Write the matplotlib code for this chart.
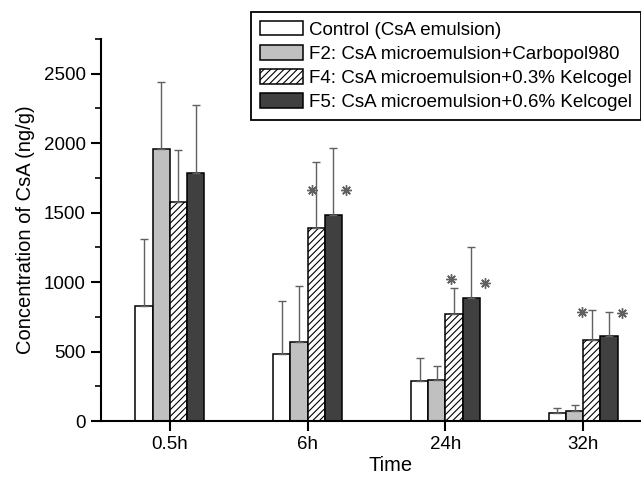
import numpy as np
import matplotlib
matplotlib.use("Agg")
import matplotlib.pyplot as plt
from matplotlib.ticker import MultipleLocator

# values (ng/g)
times = ["0.5h", "6h", "24h", "32h"]
labels = [
    "Control (CsA emulsion)",
    "F2: CsA microemulsion+Carbopol980",
    "F4: CsA microemulsion+0.3% Kelcogel",
    "F5: CsA microemulsion+0.6% Kelcogel",
]
control = [831, 485, 288, 58]
f2 = [1955, 567, 295, 74]
f4 = [1580, 1388, 771, 584]
f5 = [1785, 1484, 886, 615]
control_err = [480, 380, 166, 33]
f2_err = [482, 408, 101, 41]
f4_err = [373, 476, 185, 213]
f5_err = [490, 481, 370, 170]

# significance stars (time index, series index, height)
stars = [(1, 2, 1664), (1, 3, 1664), (2, 2, 1023), (2, 3, 994),
         (3, 2, 787), (3, 3, 778)]
star_dx = [-0.25, 0.75, -0.15, 0.78, -0.57, 0.75]

plt.rcParams["font.family"] = ["Liberation Sans", "DejaVu Sans"]
plt.rcParams["hatch.linewidth"] = 0.8
plt.rcParams["hatch.color"] = "#222222"

fig = plt.figure(figsize=(6.41, 4.79), dpi=100)
ax = fig.add_axes([101 / 641, 1 - 421 / 479, 540 / 641, 382 / 479])

series = [control, f2, f4, f5]
errs = [control_err, f2_err, f4_err, f5_err]
faces = ["white", "#c0c0c0", "white", "#404040"]
hatches = [None, None, "/////", None]
w = 0.125
x = np.arange(len(times))

for i, (vals, err) in enumerate(zip(series, errs)):
    pos = x + (i - 1.5) * w
    ax.bar(pos, vals, w, color=faces[i], edgecolor="black", linewidth=1.1,
           hatch=hatches[i], label=labels[i], zorder=2)
    ax.errorbar(pos, vals, yerr=[np.zeros(len(vals)), err], fmt="none",
                ecolor="#606060", elinewidth=1.0, capsize=3, capthick=1.0,
                zorder=3)

for (ti, si, yv), dx in zip(stars, star_dx):
    ax.plot(ti + (si - 1.5 + dx) * w, yv, marker=(8, 2, 0), ms=7.5,
            mew=1.0, color="#606060", zorder=4)

ax.set_xlim(-0.5, 3.42)
ax.set_ylim(0, 2750)
ax.set_xticks(x)
ax.set_xticklabels(times)
ax.yaxis.set_major_locator(MultipleLocator(500))
ax.yaxis.set_minor_locator(MultipleLocator(250))

for side in ("top", "right"):
    ax.spines[side].set_visible(False)
for side in ("left", "bottom"):
    ax.spines[side].set_linewidth(1.5)

ax.tick_params(axis="both", which="major", labelsize=13.5, width=1.5,
               length=7, direction="out", pad=4)
ax.tick_params(axis="y", which="minor", width=1.2, length=4,
               direction="out")

ax.set_ylabel("Concentration of CsA (ng/g)", fontsize=14.5, labelpad=6)
ax.set_xlabel("Time", fontsize=14.5)
ax.xaxis.set_label_coords(0.536, -0.092)

leg = ax.legend(loc="upper left", bbox_to_anchor=(251 / 641, 1 - 11.7 / 479),
                bbox_transform=fig.transFigure, borderaxespad=0,
                fontsize=13.5, frameon=True, fancybox=False, framealpha=1,
                handlelength=2.3, handleheight=0.83, handletextpad=0.3,
                labelspacing=0.34, borderpad=0.48)
leg.get_frame().set_edgecolor("black")
leg.get_frame().set_linewidth(1.3)

fig.savefig("out.png", dpi=100)
